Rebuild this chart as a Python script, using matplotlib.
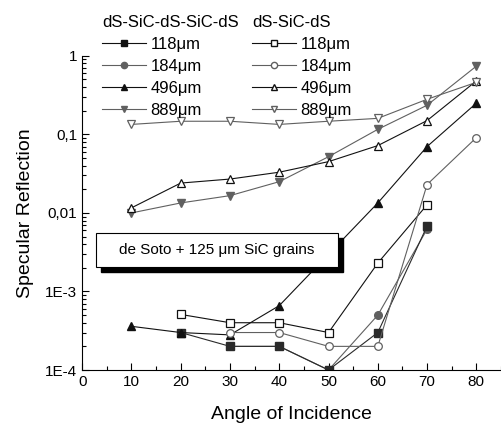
import matplotlib
matplotlib.use("Agg")
import matplotlib.pyplot as plt
from matplotlib.lines import Line2D
from matplotlib.patches import Rectangle
from matplotlib.ticker import FixedLocator, LogLocator, MultipleLocator, NullFormatter

plt.rcParams['font.family'] = ['Liberation Sans', 'DejaVu Sans']

# dS-SiC-dS-SiC-dS (filled markers)
x_f118 = [20, 30, 40, 50, 60, 70]
y_f118 = [3e-4, 2e-4, 2e-4, 1e-4, 3e-4, 6.8e-3]
x_f184 = [30, 40, 50, 60, 70]
y_f184 = [2e-4, 2e-4, 1e-4, 5e-4, 6.2e-3]
x_f496 = [10, 20, 30, 40, 60, 70, 80]
y_f496 = [3.6e-4, 3e-4, 2.8e-4, 6.6e-4, 0.0134, 0.07, 0.25]
x_f889 = [10, 20, 30, 40, 50, 60, 70, 80]
y_f889 = [0.010, 0.0134, 0.0166, 0.025, 0.052, 0.116, 0.235, 0.74]

# dS-SiC-dS (open markers)
x_o118 = [20, 30, 40, 50, 60, 70]
y_o118 = [5.1e-4, 4e-4, 4e-4, 3e-4, 2.3e-3, 0.0127]
x_o184 = [30, 40, 50, 60, 70, 80]
y_o184 = [3e-4, 3e-4, 2e-4, 2e-4, 0.023, 0.091]
x_o496 = [10, 20, 30, 40, 50, 60, 70, 80]
y_o496 = [0.0116, 0.024, 0.027, 0.033, 0.045, 0.072, 0.15, 0.48]
x_o889 = [10, 20, 30, 40, 50, 60, 70, 80]
y_o889 = [0.134, 0.147, 0.147, 0.134, 0.147, 0.16, 0.28, 0.46]

labels = ["118\u03bcm", "184\u03bcm", "496\u03bcm", "889\u03bcm"]
ytick_vals = [1e-4, 1e-3, 1e-2, 1e-1, 1]
ytick_labels = ["1E-4", "1E-3", "0,01", "0,1", "1"]

fig = plt.figure(figsize=(5.01, 4.28), dpi=100)
ax = fig.add_axes([0.164, 0.1355, 0.836, 0.734])

dark = "#111111"
gray = "#606060"
lw = 0.8
ms = 5.5

filled = [
    (x_f184, y_f184, "o", gray),
    (x_f118, y_f118, "s", "#2a2a2a"),
    (x_f496, y_f496, "^", dark),
    (x_f889, y_f889, "v", gray),
]
opened = [
    (x_o118, y_o118, "s", dark),
    (x_o184, y_o184, "o", gray),
    (x_o496, y_o496, "^", dark),
    (x_o889, y_o889, "v", gray),
]
for xs, ys, m, c in filled:
    ax.plot(xs, ys, marker=m, color=c, lw=lw, ms=ms, mfc=c, mec=c)
for xs, ys, m, c in opened:
    ax.plot(xs, ys, marker=m, color=c, lw=lw, ms=ms, mfc="white", mec=c, mew=0.9)

ax.set_yscale("log")
ax.set_xlim(0, 85)
ax.set_ylim(1e-4, 1)
ax.xaxis.set_major_locator(FixedLocator([0, 10, 20, 30, 40, 50, 60, 70, 80]))
ax.xaxis.set_minor_locator(MultipleLocator(5))
ax.yaxis.set_major_locator(FixedLocator(ytick_vals))
ax.set_yticklabels(ytick_labels)
ax.yaxis.set_minor_locator(LogLocator(base=10, subs=range(2, 10)))
ax.yaxis.set_minor_formatter(NullFormatter())
ax.tick_params(which="both", direction="in", labelsize=11, width=0.8)
ax.tick_params(which="major", length=5)
ax.tick_params(which="minor", length=3)
ax.spines["top"].set_visible(False)
ax.spines["right"].set_visible(False)
ax.set_xlabel("Angle of Incidence", fontsize=14, labelpad=12)
ax.set_ylabel("Specular Reflection", fontsize=14, labelpad=8)

# legends
lms = 4.5
h1 = [Line2D([], [], marker=m, color=c, lw=lw, ms=lms, mfc=c, mec=c)
      for m, c in [("s", dark), ("o", gray), ("^", dark), ("v", gray)]]
h2 = [Line2D([], [], marker=m, color=c, lw=lw, ms=lms, mfc="white", mec=c)
      for m, c in [("s", dark), ("o", gray), ("^", dark), ("v", gray)]]
kw = dict(frameon=False, fontsize=12, handlelength=2.6, handletextpad=0.3,
          labelspacing=0.42, borderpad=0, title_fontsize=12,
          loc="upper left", bbox_transform=fig.transFigure)
leg1 = fig.legend(h1, labels, title="dS-SiC-dS-SiC-dS",
                  bbox_to_anchor=(94 / 501, 1 - 7 / 428), **kw)
leg1._legend_box.align = "left"
leg2 = fig.legend(h2, labels, title="dS-SiC-dS",
                  bbox_to_anchor=(244 / 501, 1 - 7 / 428), **kw)
leg2._legend_box.align = "left"

# annotation box with shadow
W, H = 501, 428
bx0, by0, bx1, by1 = 96, 233, 338, 267
fig.patches.append(Rectangle((bx0 / W + 5 / W, 1 - (by1 + 5) / H), (bx1 - bx0) / W, (by1 - by0) / H,
                             transform=fig.transFigure, facecolor="black", edgecolor="black", zorder=5))
fig.patches.append(Rectangle((bx0 / W, 1 - by1 / H), (bx1 - bx0) / W, (by1 - by0) / H,
                             transform=fig.transFigure, facecolor="white", edgecolor="black", lw=0.8, zorder=6))
fig.text((bx0 + bx1) / 2 / W, 1 - (by0 + by1) / 2 / H, "de Soto + 125 \u03bcm SiC grains",
         ha="center", va="center", fontsize=11, zorder=7)

fig.savefig("out.png", dpi=100)
